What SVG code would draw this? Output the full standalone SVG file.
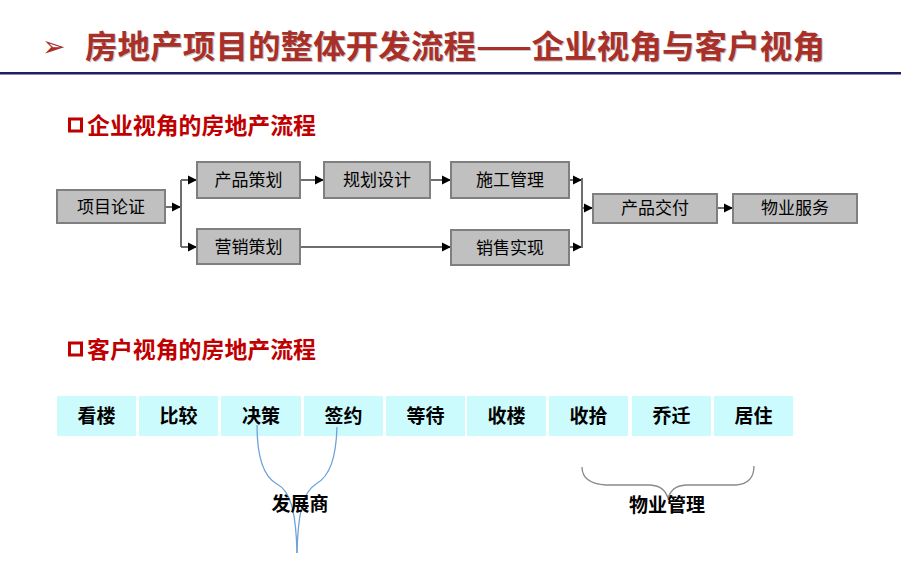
<svg xmlns="http://www.w3.org/2000/svg" width="901" height="578" viewBox="0 0 901 578">
<defs>
<style>
.cjk{font-family:"Noto Sans CJK SC","Liberation Sans",sans-serif;}
.title{font-size:32px;font-weight:bold;fill:#A93029;}
.tshadow{font-size:32px;font-weight:bold;fill:#C8C8C8;}
.head{font-size:23px;font-weight:bold;fill:#C00000;}
.ebox{fill:#C0C0C0;stroke:#7F7F7F;stroke-width:2;}
.etext{font-size:17px;fill:#000;text-anchor:middle;}
.cbox{fill:#CCFBFD;}
.ctext{font-size:19px;font-weight:bold;fill:#000;text-anchor:middle;}
.conn{fill:none;stroke:#6E6E6E;stroke-width:2;}
.blue{fill:none;stroke:#6FA3D6;stroke-width:1.3;}
.gray{fill:none;stroke:#8A8A8A;stroke-width:1.3;}
</style>
<marker id="arr" viewBox="0 0 10 10" refX="10" refY="5" markerWidth="9" markerHeight="11" markerUnits="userSpaceOnUse" orient="auto">
<path d="M0,0 L10,5 L0,10 z" fill="#000"/>
</marker>
</defs>
<rect x="0" y="0" width="901" height="578" fill="#fff"/>

<g id="title">
<text x="42" y="56" font-family="DejaVu Sans,sans-serif" font-size="28" fill="#A93029">➢</text>
<text class="cjk tshadow" x="86" y="59" textLength="740" lengthAdjust="spacingAndGlyphs">房地产项目的整体开发流程——企业视角与客户视角</text>
<text class="cjk title" x="85" y="58" textLength="740" lengthAdjust="spacingAndGlyphs">房地产项目的整体开发流程——企业视角与客户视角</text>
<rect x="0" y="72" width="901" height="2.5" fill="#1F2060"/>
</g>

<g id="heading1">
<rect x="69.5" y="119" width="12" height="12" fill="none" stroke="#C00000" stroke-width="3"/>
<text class="cjk head" x="87" y="134" textLength="229" lengthAdjust="spacingAndGlyphs">企业视角的房地产流程</text>
</g>
<g id="heading2">
<rect x="69.5" y="343" width="12" height="12" fill="none" stroke="#C00000" stroke-width="3"/>
<text class="cjk head" x="87" y="358" textLength="229" lengthAdjust="spacingAndGlyphs">客户视角的房地产流程</text>
</g>

<g id="connectors">
<path class="conn" d="M165,207 H181" marker-end="url(#arr)"/>
<path class="conn" d="M181,180 V247"/>
<path class="conn" d="M181,180 H197" marker-end="url(#arr)"/>
<path class="conn" d="M181,247 H197" marker-end="url(#arr)"/>
<path class="conn" d="M300,180 H324" marker-end="url(#arr)"/>
<path class="conn" d="M430,180 H451" marker-end="url(#arr)"/>
<path class="conn" d="M300,247 H451" marker-end="url(#arr)"/>
<path class="conn" d="M569,180 H582" marker-end="url(#arr)"/>
<path class="conn" d="M569,247 H582" marker-end="url(#arr)"/>
<path class="conn" d="M582,178 V248"/>
<path class="conn" d="M582,208 H593" marker-end="url(#arr)"/>
<path class="conn" d="M717,208 H733" marker-end="url(#arr)"/>
</g>

<g id="n-xmlz"><rect class="ebox" x="57" y="190" width="108" height="33"/><text class="cjk etext" x="111" y="213">项目论证</text></g>
<g id="n-cpch"><rect class="ebox" x="197" y="162" width="103" height="36"/><text class="cjk etext" x="248.5" y="186">产品策划</text></g>
<g id="n-yxch"><rect class="ebox" x="197" y="229" width="103" height="35"/><text class="cjk etext" x="248.5" y="253">营销策划</text></g>
<g id="n-ghsj"><rect class="ebox" x="324" y="162" width="106" height="36"/><text class="cjk etext" x="377" y="186">规划设计</text></g>
<g id="n-sggl"><rect class="ebox" x="451" y="162" width="118" height="36"/><text class="cjk etext" x="510" y="186">施工管理</text></g>
<g id="n-xssx"><rect class="ebox" x="451" y="230" width="118" height="35"/><text class="cjk etext" x="510" y="254">销售实现</text></g>
<g id="n-cpjf"><rect class="ebox" x="593" y="194" width="124" height="29"/><text class="cjk etext" x="655" y="214">产品交付</text></g>
<g id="n-wyfw"><rect class="ebox" x="733" y="194" width="124" height="29"/><text class="cjk etext" x="795" y="214">物业服务</text></g>

<g id="c-1"><rect class="cbox" x="57" y="396" width="79" height="40"/><text class="cjk ctext" x="96.5" y="423">看楼</text></g>
<g id="c-2"><rect class="cbox" x="139" y="396" width="79" height="40"/><text class="cjk ctext" x="178.5" y="423">比较</text></g>
<g id="c-3"><rect class="cbox" x="221" y="396" width="80" height="40"/><text class="cjk ctext" x="261" y="423">决策</text></g>
<g id="c-4"><rect class="cbox" x="304" y="396" width="79" height="40"/><text class="cjk ctext" x="343.5" y="423">签约</text></g>
<g id="c-5"><rect class="cbox" x="386" y="396" width="79" height="40"/><text class="cjk ctext" x="425.5" y="423">等待</text></g>
<g id="c-6"><rect class="cbox" x="467" y="396" width="79" height="40"/><text class="cjk ctext" x="506.5" y="423">收楼</text></g>
<g id="c-7"><rect class="cbox" x="549" y="396" width="79" height="40"/><text class="cjk ctext" x="588.5" y="423">收拾</text></g>
<g id="c-8"><rect class="cbox" x="632" y="396" width="79" height="40"/><text class="cjk ctext" x="671.5" y="423">乔迁</text></g>
<g id="c-9"><rect class="cbox" x="714" y="396" width="79" height="40"/><text class="cjk ctext" x="753.5" y="423">居住</text></g>

<g id="brace-developer">
<path class="blue" d="M257,425 C257,455 262,476 277,484 C290,491 296,510 297,553"/>
<path class="blue" d="M337,427 C336,458 330,476 316,484 C303,492 298,512 297,553"/>
<text class="cjk ctext" x="300" y="511">发展商</text>
</g>

<g id="brace-property">
<path class="gray" d="M582,467 C582,478 590,484 606,485 L650,485 C661,486 665,490 668,498 C671,490 675,486 686,485 L736,485 C749,484 754,476 754,466"/>
<text class="cjk ctext" x="667" y="512">物业管理</text>
</g>
</svg>
